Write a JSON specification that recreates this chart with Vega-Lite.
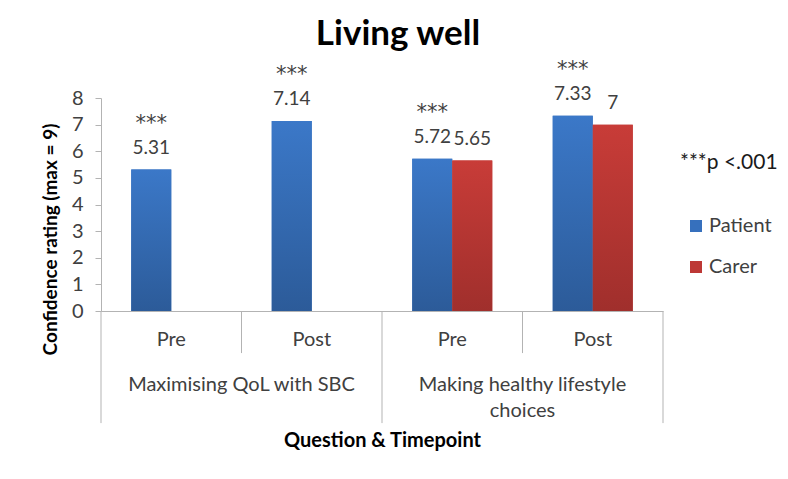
{
  "$schema": "https://vega.github.io/schema/vega-lite/v6.json",
  "width": 562,
  "height": 213,
  "autosize": {"type": "none"},
  "padding": {"left": 101, "top": 98, "right": 125, "bottom": 168},
  "background": "white",
  "config": {
    "font": "Lato",
    "view": {"stroke": null}
  },
  "title": {
    "text": "Living well",
    "fontSize": 35,
    "fontWeight": "bold",
    "color": "#000000",
    "anchor": "middle",
    "frame": "group",
    "dx": 16,
    "offset": 7
  },
  "data": {
    "values": [
      {"key": "QoL-Pre", "group": "Maximising QoL with SBC", "time": "Pre", "role": "Patient", "value": 5.31, "sig": "***"},
      {"key": "QoL-Post", "group": "Maximising QoL with SBC", "time": "Post", "role": "Patient", "value": 7.14, "sig": "***"},
      {"key": "Life-Pre", "group": "Making healthy lifestyle\nchoices", "time": "Pre", "role": "Patient", "value": 5.72, "sig": "***"},
      {"key": "Life-Pre", "group": "Making healthy lifestyle\nchoices", "time": "Pre", "role": "Carer", "value": 5.65, "sig": ""},
      {"key": "Life-Post", "group": "Making healthy lifestyle\nchoices", "time": "Post", "role": "Patient", "value": 7.33, "sig": "***"},
      {"key": "Life-Post", "group": "Making healthy lifestyle\nchoices", "time": "Post", "role": "Carer", "value": 7, "sig": ""}
    ]
  },
  "layer": [
    {
      "mark": {"type": "bar"},
      "encoding": {
        "x": {
          "field": "key", "type": "nominal",
          "scale": {"domain": ["QoL-Pre", "QoL-Post", "Life-Pre", "Life-Post"], "paddingInner": 0, "paddingOuter": 0},
          "axis": {
            "title": "Question & Timepoint",
            "titleFontSize": 20,
            "titleFontWeight": "bold",
            "titleColor": "#000000",
            "titleBaseline": "middle",
            "titleY": 129,
            "labelExpr": "split(datum.label, '-')[1]",
            "labelAngle": 0,
            "labelFontSize": 20,
            "labelColor": "#404040",
            "labelPadding": 18,
            "ticks": false,
            "domainColor": "#b3b3b3"
          }
        },
        "xOffset": {
          "field": "role", "type": "nominal",
          "scale": {"domain": ["Patient", "Carer"], "paddingInner": 0, "paddingOuter": 0.756}
        },
        "y": {
          "field": "value", "type": "quantitative",
          "scale": {"domain": [0, 8], "nice": false},
          "axis": {
            "title": "Confidence rating (max = 9)",
            "titleFontSize": 19,
            "titleFontWeight": "bold",
            "titleColor": "#000000",
            "titleAngle": -90,
            "titleAlign": "center",
            "titleBaseline": "middle",
            "titleX": -51,
            "titleY": 141,
            "values": [0, 1, 2, 3, 4, 5, 6, 7, 8],
            "tickCount": 9,
            "labelOverlap": false,
            "grid": false,
            "tickSize": 6,
            "tickColor": "#b3b3b3",
            "domainColor": "#b3b3b3",
            "labelFontSize": 20,
            "labelColor": "#404040",
            "labelPadding": 12
          }
        },
        "color": {
          "field": "role", "type": "nominal",
          "scale": {"domain": ["Patient", "Carer"], "range": ["#3670bd", "#bd3835"]},
          "legend": {
            "orient": "none",
            "legendX": 579,
            "legendY": 54,
            "title": "***p <.001",
            "titleFontSize": 21,
            "titleFontWeight": "normal",
            "titleColor": "#1a1a1a",
            "titlePadding": 43,
            "symbolType": "square",
            "symbolSize": 144,
            "symbolStrokeWidth": 0,
            "symbolOpacity": 1,
            "symbolOffset": 6,
            "labelOffset": 3,
            "labelFontSize": 20,
            "labelColor": "#404040",
            "rowPadding": 21
          }
        }
      }
    },
    {
      "transform": [{"filter": "datum.role == 'Patient'"}],
      "mark": {"type": "bar", "color": {"gradient": "linear", "x1": 0, "y1": 0, "x2": 0, "y2": 1, "stops": [{"offset": 0, "color": "#3b78c8"}, {"offset": 1, "color": "#2c5b99"}]}},
      "encoding": {
        "x": {"field": "key", "type": "nominal"},
        "xOffset": {"field": "role", "type": "nominal"},
        "y": {"field": "value", "type": "quantitative"}
      }
    },
    {
      "transform": [{"filter": "datum.role == 'Carer'"}],
      "mark": {"type": "bar", "color": {"gradient": "linear", "x1": 0, "y1": 0, "x2": 0, "y2": 1, "stops": [{"offset": 0, "color": "#c83c38"}, {"offset": 1, "color": "#a02f2c"}]}},
      "encoding": {
        "x": {"field": "key", "type": "nominal"},
        "xOffset": {"field": "role", "type": "nominal"},
        "y": {"field": "value", "type": "quantitative"}
      }
    },
    {
      "mark": {"type": "text", "baseline": "middle", "dy": -22, "fontSize": 19, "color": "#404040"},
      "encoding": {
        "x": {"field": "key", "type": "nominal"},
        "xOffset": {"field": "role", "type": "nominal"},
        "y": {"field": "value", "type": "quantitative"},
        "text": {"field": "value", "type": "quantitative", "format": ".3~g"}
      }
    },
    {
      "mark": {"type": "text", "baseline": "middle", "dy": -46, "fontSize": 21, "font": "DejaVu Sans", "color": "#404040"},
      "encoding": {
        "x": {"field": "key", "type": "nominal"},
        "xOffset": {"field": "role", "type": "nominal"},
        "y": {"field": "value", "type": "quantitative"},
        "text": {"field": "sig", "type": "nominal"}
      }
    },
    {
      "transform": [{"filter": "datum.time == 'Post' && datum.role == 'Patient'"}],
      "mark": {"type": "rule", "color": "#b3b3b3", "strokeWidth": 1},
      "encoding": {
        "x": {"field": "key", "type": "nominal", "bandPosition": 0},
        "y": {"datum": 0},
        "y2": {"datum": -1.58}
      }
    },
    {
      "transform": [{"filter": "datum.time == 'Pre' && datum.role == 'Patient'"}],
      "mark": {"type": "rule", "color": "#b3b3b3", "strokeWidth": 1},
      "encoding": {
        "x": {"field": "key", "type": "nominal", "bandPosition": 0},
        "y": {"datum": 0},
        "y2": {"datum": -4.21}
      }
    },
    {
      "transform": [{"filter": "datum.key == 'Life-Post' && datum.role == 'Patient'"}],
      "mark": {"type": "rule", "color": "#b3b3b3", "strokeWidth": 1},
      "encoding": {
        "x": {"field": "key", "type": "nominal", "bandPosition": 1},
        "y": {"datum": 0},
        "y2": {"datum": -4.21}
      }
    },
    {
      "transform": [{"filter": "datum.time == 'Pre' && datum.role == 'Patient'"}],
      "mark": {"type": "text", "baseline": "top", "align": "center", "fontSize": 20, "color": "#404040", "lineBreak": "\n", "lineHeight": 26},
      "encoding": {
        "x": {"field": "key", "type": "nominal", "bandPosition": 1},
        "y": {"datum": -2.42},
        "text": {"field": "group", "type": "nominal"}
      }
    }
  ]
}
